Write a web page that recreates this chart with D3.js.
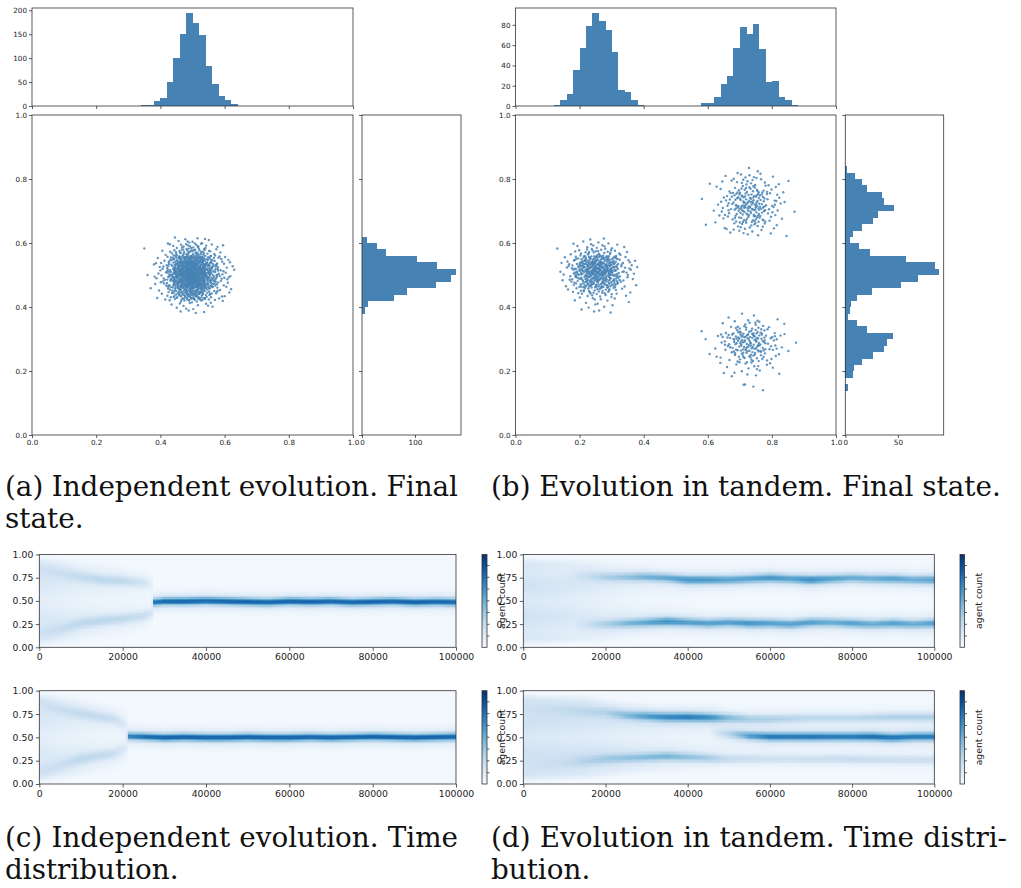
<!DOCTYPE html>
<html><head><meta charset="utf-8">
<script src="https://cdn.jsdelivr.net/npm/d3@7"></script>
<style>body{margin:0;background:#fff} svg{display:block}</style>
</head><body>
<svg id="fig" width="1021" height="888"></svg>
<script>
// ---------------- DATA ----------------
const BIN = 0.02;
// histogram bins: [bin start, count]
const aTopHist = [[0.34,2],[0.36,2],[0.38,10],[0.40,17],[0.42,51],[0.44,101],[0.46,151],[0.48,195],[0.50,174],[0.52,148],[0.54,84],[0.56,47],[0.58,21],[0.60,12],[0.62,4]];
const aRightHist = [[0.38,6],[0.40,12],[0.42,61],[0.44,85],[0.46,139],[0.48,168],[0.50,178],[0.52,142],[0.54,103],[0.56,45],[0.58,28],[0.60,10]];
const bTopHist = [[0.12,1],[0.14,6],[0.16,12],[0.18,35],[0.20,57],[0.22,79],[0.24,92],[0.26,84],[0.28,75],[0.30,53],[0.32,16],[0.34,14],[0.36,6],[0.38,1],
  [0.58,3],[0.60,3],[0.62,9],[0.64,22],[0.66,30],[0.68,57],[0.70,78],[0.72,71],[0.74,81],[0.76,56],[0.78,24],[0.80,25],[0.82,9],[0.84,6],[0.86,1]];
const bRightHist = [[0.14,3],[0.18,7],[0.20,8],[0.22,16],[0.24,26],[0.26,37],[0.28,40],[0.30,45],[0.32,21],[0.34,11],[0.36,3],[0.38,4],[0.40,5],[0.42,11],[0.44,25],[0.46,53],[0.48,69],[0.50,89],[0.52,85],[0.54,58],[0.56,23],[0.58,13],[0.60,4],[0.62,7],[0.64,16],[0.66,26],[0.68,31],[0.70,46],[0.72,37],[0.74,35],[0.76,21],[0.78,16],[0.80,9],[0.82,2]];
// scatter clusters of (b): [x range of top-hist bins, y range of right-hist bins]
const bClusters = [[[0.0,0.5],[0.38,0.62]],[[0.5,1.0],[0.62,1.0]],[[0.5,1.0],[0.0,0.38]]];

// tick labels
const unitTicks = [0,0.2,0.4,0.6,0.8,1.0];
const aTopTicks = [0,50,100,150,200];
const bTopTicks = [0,20,40,60,80];
const aRightTicks = [0,100];
const bRightTicks = [0,50];
const heatYTicks = [0,0.25,0.5,0.75,1.0];
const heatXTicks = [0,20000,40000,60000,80000,100000];

// heat-map bands: rows [time, centre, intensity, spread]
const c1Upper = [[0,0.84,0.10,0.06],[5000,0.80,0.14,0.05],[10000,0.76,0.18,0.045],[15000,0.73,0.22,0.04],[20000,0.72,0.22,0.04],[25000,0.70,0.16,0.04],[27000,0.68,0.08,0.04],[27500,0.66,0,0.04]];
const c1Lower = [[0,0.15,0.10,0.06],[5000,0.20,0.15,0.05],[10000,0.26,0.20,0.045],[15000,0.29,0.22,0.04],[20000,0.31,0.22,0.04],[25000,0.34,0.20,0.04],[27000,0.37,0.15,0.04],[27500,0.40,0,0.04]];
const c1Main = [[27000,0.50,0,0.028],[27500,0.49,0.72,0.028],[30000,0.50,0.78,0.028],[35000,0.50,0.8,0.028],[40000,0.505,0.78,0.028],[45000,0.50,0.8,0.028],[50000,0.495,0.8,0.028],[55000,0.49,0.78,0.028],[60000,0.50,0.8,0.028],[65000,0.495,0.8,0.028],[70000,0.50,0.78,0.028],[75000,0.49,0.78,0.028],[80000,0.495,0.8,0.028],[85000,0.50,0.78,0.028],[90000,0.49,0.8,0.028],[95000,0.495,0.78,0.028],[100000,0.49,0.78,0.028]];
const c1Diffuse = [[0,0.02,0.98,0.12],[10000,0.05,0.95,0.06],[20000,0.1,0.9,0.03],[27000,0.15,0.85,0.01],[28000,0.2,0.8,0]];

const c2Upper = [[0,0.86,0.10,0.06],[5000,0.80,0.14,0.05],[10000,0.76,0.18,0.045],[15000,0.72,0.20,0.04],[18000,0.70,0.18,0.04],[21000,0.62,0.08,0.05],[21500,0.60,0,0.05]];
const c2Lower = [[0,0.14,0.10,0.06],[5000,0.20,0.14,0.05],[10000,0.27,0.20,0.045],[15000,0.31,0.20,0.04],[18000,0.33,0.18,0.04],[21000,0.40,0.08,0.05],[21500,0.42,0,0.05]];
const c2Main = [[21000,0.51,0,0.028],[21500,0.515,0.68,0.028],[25000,0.51,0.75,0.028],[30000,0.50,0.8,0.028],[35000,0.505,0.8,0.028],[40000,0.50,0.8,0.028],[45000,0.50,0.8,0.028],[50000,0.505,0.8,0.028],[55000,0.50,0.8,0.028],[60000,0.50,0.8,0.028],[65000,0.505,0.78,0.028],[70000,0.50,0.8,0.028],[75000,0.505,0.78,0.028],[80000,0.51,0.8,0.028],[85000,0.505,0.8,0.028],[90000,0.50,0.8,0.028],[95000,0.505,0.8,0.028],[100000,0.51,0.78,0.028]];
const c2Diffuse = [[0,0.02,0.98,0.12],[8000,0.05,0.95,0.07],[15000,0.1,0.9,0.04],[21000,0.15,0.85,0.02],[22000,0.2,0.8,0]];

const d1Upper = [[10000,0.78,0,0.04],[15000,0.77,0.12,0.04],[20000,0.76,0.25,0.035],[25000,0.76,0.35,0.034],[30000,0.76,0.45,0.034],[35000,0.75,0.5,0.034],[40000,0.73,0.6,0.034],[45000,0.73,0.6,0.034],[50000,0.73,0.55,0.034],[55000,0.74,0.55,0.034],[60000,0.75,0.6,0.034],[65000,0.74,0.55,0.034],[70000,0.73,0.65,0.034],[75000,0.74,0.55,0.034],[80000,0.75,0.5,0.034],[85000,0.74,0.5,0.034],[90000,0.74,0.55,0.034],[95000,0.73,0.5,0.034],[100000,0.73,0.55,0.034]];
const d1Lower = [[12000,0.24,0,0.04],[20000,0.25,0.25,0.035],[25000,0.26,0.4,0.034],[30000,0.27,0.5,0.034],[35000,0.28,0.6,0.034],[40000,0.27,0.55,0.034],[45000,0.26,0.55,0.034],[50000,0.27,0.55,0.034],[55000,0.26,0.6,0.034],[60000,0.26,0.55,0.034],[65000,0.25,0.55,0.034],[70000,0.27,0.55,0.034],[75000,0.27,0.5,0.034],[80000,0.26,0.55,0.034],[85000,0.25,0.5,0.034],[90000,0.26,0.55,0.034],[95000,0.25,0.5,0.034],[100000,0.26,0.55,0.034]];
const d1Diffuse = [[0,0.02,0.98,0.18],[10000,0.03,0.97,0.14],[20000,0.05,0.95,0.08],[30000,0.1,0.9,0.03],[40000,0.2,0.8,0.01],[45000,0.2,0.8,0]];

const d2Upper = [[0,0.82,0.06,0.05],[10000,0.80,0.12,0.05],[20000,0.77,0.2,0.04],[25000,0.74,0.35,0.035],[30000,0.73,0.5,0.034],[35000,0.72,0.6,0.034],[40000,0.72,0.65,0.034],[45000,0.715,0.6,0.034],[50000,0.71,0.4,0.034],[55000,0.70,0.3,0.034],[60000,0.70,0.3,0.034],[70000,0.71,0.25,0.034],[80000,0.71,0.25,0.034],[90000,0.72,0.3,0.034],[100000,0.72,0.3,0.034]];
const d2Lower = [[0,0.18,0.05,0.05],[10000,0.22,0.1,0.05],[20000,0.27,0.25,0.04],[25000,0.28,0.3,0.035],[30000,0.29,0.35,0.034],[35000,0.30,0.4,0.034],[40000,0.29,0.35,0.034],[45000,0.28,0.3,0.034],[50000,0.27,0.2,0.034],[60000,0.27,0.18,0.034],[70000,0.27,0.2,0.034],[80000,0.27,0.22,0.034],[90000,0.26,0.2,0.034],[100000,0.26,0.2,0.034]];
const d2Middle = [[45000,0.56,0,0.04],[50000,0.54,0.25,0.035],[55000,0.52,0.55,0.032],[60000,0.51,0.7,0.032],[65000,0.51,0.7,0.032],[70000,0.51,0.72,0.032],[75000,0.51,0.7,0.032],[80000,0.51,0.7,0.032],[85000,0.51,0.75,0.032],[90000,0.50,0.72,0.032],[95000,0.51,0.7,0.032],[100000,0.51,0.7,0.032]];
const d2Diffuse = [[0,0.02,0.98,0.18],[15000,0.04,0.96,0.14],[25000,0.08,0.9,0.1],[35000,0.1,0.85,0.06],[45000,0.15,0.85,0.04],[55000,0.2,0.8,0.02],[65000,0.2,0.8,0]];

const captions = [
  {lines:["(a) Independent evolution. Final","state."], x:5, w:453, y:496},
  {lines:["(b) Evolution in tandem. Final state."], x:491, w:0, y:496},
  {lines:["(c) Independent evolution. Time","distribution."], x:5, w:453, y:847},
  {lines:["(d) Evolution in tandem. Time distri-","bution."], x:491, w:516, y:847}
];

// ---------------- DRAWING ----------------
const svg = d3.select('#fig');
const FONT = 'DejaVu Sans';
const BLUE = '#4682b4';
const INK = '#333';

function styleAxis(g, fs){
  g.selectAll('path.domain').remove();
  g.selectAll('.tick line').attr('stroke',INK).attr('stroke-width',0.8);
  g.selectAll('.tick text').attr('font-family',FONT).attr('font-size',fs).attr('fill','#222');
}
function frame(x0,y0,x1,y1){
  svg.append('rect').attr('x',x0).attr('y',y0).attr('width',x1-x0).attr('height',y1-y0)
    .attr('fill','none').attr('stroke',INK).attr('stroke-width',0.8);
}
function halton(i,b){let f=1,r=0;while(i>0){f/=b;r+=f*(i%b);i=Math.floor(i/b);}return r;}
function invCDF(hist){
  const tot=d3.sum(hist,d=>d[1]);
  return u=>{let t=u*tot,acc=0;for(const [b,c] of hist){if(c>0&&t<=acc+c)return b+(t-acc)/c*BIN;acc+=c;}return hist[hist.length-1][0]+BIN;};
}

function drawPanel(opt){
  const {sc, th, rh, topHist, rightHist, topTicks, rightTicks, clusters} = opt;
  const sx = d3.scaleLinear([0,1],[sc[0],sc[2]]);
  const sy = d3.scaleLinear([0,1],[sc[3],sc[1]]);
  // top histogram
  const tmax = d3.max(topHist,d=>d[1])*1.05;
  const tyS = d3.scaleLinear([0,tmax],[th[3],th[1]]);
  svg.append('g').attr('shape-rendering','crispEdges').selectAll('rect').data(topHist).join('rect')
    .attr('x',d=>sx(d[0])).attr('width',d=>sx(d[0]+BIN)-sx(d[0])+0.4)
    .attr('y',d=>tyS(d[1])).attr('height',d=>tyS(0)-tyS(d[1]))
    .attr('fill',BLUE);
  frame(sc[0],th[1],sc[2],th[3]);
  styleAxis(svg.append('g').attr('transform',`translate(0,${th[3]})`)
    .call(d3.axisBottom(sx).tickValues(unitTicks).tickSize(3).tickFormat('')),7.2);
  styleAxis(svg.append('g').attr('transform',`translate(${sc[0]},0)`)
    .call(d3.axisLeft(tyS).tickValues(topTicks).tickSize(3).tickPadding(2)),7.2);
  // right histogram
  const rmax = d3.max(rightHist,d=>d[1])*1.05;
  const rxS = d3.scaleLinear([0,rmax],[rh[0],rh[2]]);
  svg.append('g').attr('shape-rendering','crispEdges').selectAll('rect').data(rightHist).join('rect')
    .attr('x',rxS(0)).attr('width',d=>rxS(d[1])-rxS(0))
    .attr('y',d=>sy(d[0]+BIN)).attr('height',d=>sy(d[0])-sy(d[0]+BIN)+0.4)
    .attr('fill',BLUE);
  frame(rh[0],sc[1],rh[2],sc[3]);
  styleAxis(svg.append('g').attr('transform',`translate(0,${sc[3]})`)
    .call(d3.axisBottom(rxS).tickValues(rightTicks).tickSize(3).tickPadding(2)),7.2);
  styleAxis(svg.append('g').attr('transform',`translate(${rh[0]},0)`)
    .call(d3.axisLeft(sy).tickValues(unitTicks).tickSize(3).tickFormat('')),7.2);
  // scatter: points placed from the marginal histograms read above
  const pts=[];
  clusters.forEach((cl,ci)=>{
    const hx = topHist.filter(d=>d[0]>=cl[0][0]-1e-9&&d[0]<cl[0][1]);
    const hy = rightHist.filter(d=>d[0]>=cl[1][0]-1e-9&&d[0]<cl[1][1]);
    let n = Math.round(d3.sum(hx,d=>d[1])*cl[2]);
    const fx=invCDF(hx), fy=invCDF(hy);
    for(let i=0;i<n;i++){const k=i+1+ci*997;pts.push([fx(halton(k,2)),fy(halton(k,3))]);}
  });
  svg.append('g').selectAll('circle').data(pts).join('circle')
    .attr('cx',d=>sx(d[0])).attr('cy',d=>sy(d[1])).attr('r',1.2)
    .attr('fill',BLUE).attr('fill-opacity',0.85);
  frame(sc[0],sc[1],sc[2],sc[3]);
  styleAxis(svg.append('g').attr('transform',`translate(0,${sc[3]})`)
    .call(d3.axisBottom(sx).tickValues(unitTicks).tickSize(3).tickPadding(2).tickFormat(d3.format('.1f'))),7.2);
  styleAxis(svg.append('g').attr('transform',`translate(${sc[0]},0)`)
    .call(d3.axisLeft(sy).tickValues(unitTicks).tickSize(3).tickPadding(2).tickFormat(d3.format('.1f'))),7.2);
}

// split right clusters of (b) by y-mass
function bClusterWeights(){
  const yl = cl=>d3.sum(bRightHist.filter(d=>d[0]>=cl[1][0]-1e-9&&d[0]<cl[1][1]),d=>d[1]);
  const up=yl(bClusters[1]), lo=yl(bClusters[2]);
  return [[...bClusters[0],1],[...bClusters[1],up/(up+lo)],[...bClusters[2],lo/(up+lo)]];
}

drawPanel({sc:[32,115,353,435], th:[32,8,353,106], rh:[362,115,461,435],
  topHist:aTopHist, rightHist:aRightHist, topTicks:aTopTicks, rightTicks:aRightTicks,
  clusters:[[[0,1],[0,1],1]]});
drawPanel({sc:[515.5,115,836,435], th:[515.5,8,836,106], rh:[845.3,115,943.7,435],
  topHist:bTopHist, rightHist:bRightHist, topTicks:bTopTicks, rightTicks:bRightTicks,
  clusters:bClusterWeights()});

// ---- heat maps ----
function knot(rows,t){
  if(t<rows[0][0]||t>rows[rows.length-1][0])return null;
  for(let i=0;i<rows.length-1;i++){const a=rows[i],b=rows[i+1];
    if(t>=a[0]&&t<=b[0]){const f=(t-a[0])/(b[0]-a[0]||1);return a.map((v,j)=>v+(b[j]-v)*f);}}
  return rows[rows.length-1];
}
const blues = d3.scaleSequential(d3.interpolateBlues).domain([0,1]);
let gradId=0;
function drawHeat(box, bands, diffuse, cb, labelX){
  const [x0,y0,x1,y1]=box;
  const sx=d3.scaleLinear([0,100000],[x0,x1]);
  const sy=d3.scaleLinear([0,1],[y1,y0]);
  const nT=220,nY=70,cells=[];
  for(let i=0;i<nT;i++){const t=(i+0.5)/nT*100000;
    const ks=bands.map(b=>knot(b,t)), df=knot(diffuse,t);
    for(let j=0;j<nY;j++){const y=(j+0.5)/nY;let v=0;
      if(df){const e=Math.min(1,Math.max(0,(y-df[1])/0.08),Math.max(0,(df[2]-y)/0.08));v+=df[3]*e*(0.85+0.15*Math.cos(y*6.28*3));}
      ks.forEach(k=>{if(k){const z=(y-k[1])/k[3];v+=k[2]*(0.8*Math.exp(-0.5*z*z)+0.2*Math.exp(-0.5*z*z/6));}});
      cells.push({t0:i/nT*100000,t1:(i+1)/nT*100000,y0:j/nY,y1:(j+1)/nY,v:Math.min(1,v)});}}
  svg.append('g').attr('shape-rendering','crispEdges').selectAll('rect').data(cells).join('rect')
    .attr('x',d=>sx(d.t0)).attr('width',d=>sx(d.t1)-sx(d.t0)+0.3)
    .attr('y',d=>sy(d.y1)).attr('height',d=>sy(d.y0)-sy(d.y1)+0.3)
    .attr('fill',d=>blues(0.02+d.v*0.98));
  frame(x0,y0,x1,y1);
  styleAxis(svg.append('g').attr('transform',`translate(0,${y1})`)
    .call(d3.axisBottom(sx).tickValues(heatXTicks).tickSize(3.5).tickPadding(2.5).tickFormat(d3.format('d'))),9.3);
  styleAxis(svg.append('g').attr('transform',`translate(${x0},0)`)
    .call(d3.axisLeft(sy).tickValues(heatYTicks).tickSize(3.5).tickPadding(2.5).tickFormat(d3.format('.2f'))),9.3);
  // colorbar
  const id='g'+(gradId++);
  const lg=svg.append('defs').append('linearGradient').attr('id',id).attr('x1',0).attr('y1',1).attr('x2',0).attr('y2',0);
  d3.range(0,1.01,0.1).forEach(s=>lg.append('stop').attr('offset',s).attr('stop-color',blues(s)));
  svg.append('rect').attr('x',cb[0]).attr('y',y0).attr('width',cb[1]-cb[0]).attr('height',y1-y0).attr('fill',`url(#${id})`);
  frame(cb[0],y0,cb[1],y1);
  const cs=d3.scaleLinear([0,7.9],[y1,y0]);
  styleAxis(svg.append('g').attr('transform',`translate(${cb[1]},0)`)
    .call(d3.axisRight(cs).tickValues([1,2,3,4,5,6,7]).tickSize(2.5).tickFormat('')),9);
  svg.append('text').attr('transform',`translate(${labelX},${(y0+y1)/2}) rotate(-90)`)
    .attr('text-anchor','middle').attr('font-family',FONT).attr('font-size',9.3).attr('fill','#222').text('agent count');
}
drawHeat([39.3,554.5,456,647.3],[c1Upper,c1Lower,c1Main],c1Diffuse,[482,487],505);
drawHeat([39.3,690.7,456,784],[c2Upper,c2Lower,c2Main],c2Diffuse,[482,487],505);
drawHeat([523.3,554.5,934.3,647.3],[d1Upper,d1Lower],d1Diffuse,[960,964.5],982);
drawHeat([523.3,690.7,934.3,784],[d2Upper,d2Lower,d2Middle],d2Diffuse,[960,964.5],982);

// ---- captions ----
const CAPF = 'DejaVu Serif', LH = 32;
// size chosen so that the (b) caption spans its reference width
const probe = svg.append('text').attr('font-family',CAPF).attr('font-size',28).text(captions[1].lines[0]);
const CAPS = Math.min(30, 28*510/probe.node().getComputedTextLength());
probe.remove();
captions.forEach(c=>{
  c.lines.forEach((line,i)=>{
    const t=svg.append('text').attr('x',c.x).attr('y',c.y+i*LH).attr('font-family',CAPF)
      .attr('font-size',CAPS).attr('fill','#111').text(line);
    if(i===0&&c.w>0){const nat=t.node().getComputedTextLength();const gaps=line.split(' ').length-1;
      t.attr('word-spacing',(c.w-nat)/gaps);}
  });
});
</script>
</body></html>
